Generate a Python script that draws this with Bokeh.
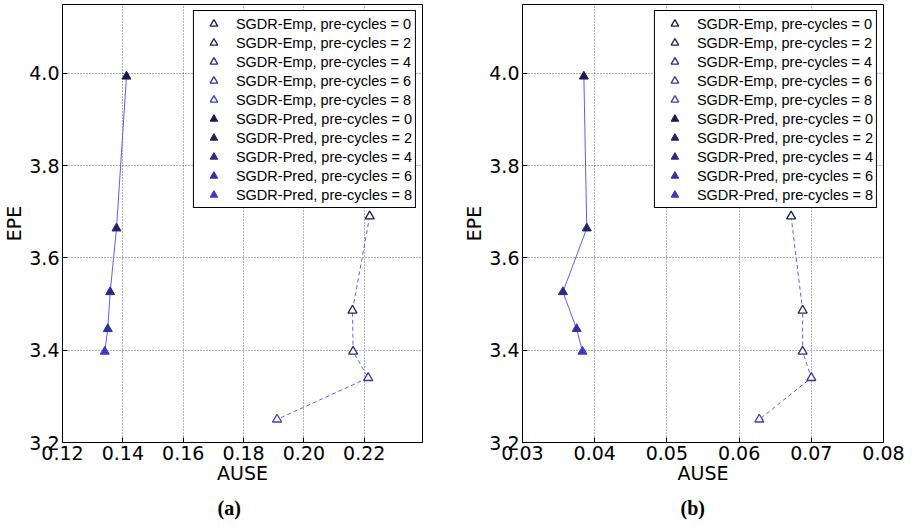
from bokeh.plotting import figure
from bokeh.layouts import row
from bokeh.models import (ColumnDataSource, Legend, LegendItem, Range1d, FixedTicker,
                          PrintfTickFormatter, Title)
from bokeh.embed import file_html
from bokeh.resources import INLINE

# ---------------- data ----------------
pre_cycles = [0, 2, 4, 6, 8]
epe_emp = [3.690, 3.486, 3.397, 3.340, 3.250]
epe_pred = [3.993, 3.664, 3.526, 3.446, 3.397]

ause_emp_a = [0.2218, 0.2161, 0.2163, 0.2213, 0.1911]
ause_pred_a = [0.1412, 0.1379, 0.1358, 0.1350, 0.1340]
ause_emp_b = [0.0672, 0.0688, 0.0688, 0.0700, 0.0628]
ause_pred_b = [0.0385, 0.0389, 0.0356, 0.0375, 0.0383]

emp_colors = ["#1c1b50", "#23226a", "#2b2b88", "#3434a6", "#3d3dc2"]
pred_colors = ["#1b1a4e", "#222266", "#2a2a85", "#3232a5", "#3b3bc0"]

y_ticks = [3.2, 3.4, 3.6, 3.8, 4.0]
x_ticks_a = [0.12, 0.14, 0.16, 0.18, 0.20, 0.22]
x_ticks_b = [0.03, 0.04, 0.05, 0.06, 0.07, 0.08]

FONT = "'DejaVu Sans'"
LEG_FONT = "'Liberation Sans'"
LINE_COLOR = "#5c5cff"


def make_panel(ause_emp, ause_pred, xr, xticks, xfmt, width, mbl, mbr, caption, cap_offset):
    p = figure(width=width, height=529, x_range=Range1d(*xr), y_range=Range1d(3.2, 4.1489),
               output_backend="svg", toolbar_location=None,
               min_border_left=mbl, min_border_right=mbr, min_border_top=4, min_border_bottom=87,
               background_fill_color="white", border_fill_color="white")
    p.outline_line_color = "black"
    p.outline_line_width = 1
    p.outline_line_alpha = 1

    p.line(ause_pred, epe_pred, line_color=LINE_COLOR, line_width=1)
    p.line(ause_emp, epe_emp, line_color=LINE_COLOR, line_width=1, line_dash="4 3")

    src_emp = ColumnDataSource(dict(x=ause_emp, y=epe_emp, c=emp_colors))
    src_pred = ColumnDataSource(dict(x=ause_pred, y=epe_pred, c=pred_colors))
    r_emp = p.scatter("x", "y", source=src_emp, marker="triangle", size=9,
                      line_color="c", fill_color="white", line_width=1.3)
    r_pred = p.scatter("x", "y", source=src_pred, marker="triangle", size=9,
                       line_color="c", fill_color="c", line_width=1)

    items = [LegendItem(label=f"SGDR-Emp, pre-cycles = {c}", renderers=[r_emp], index=i)
             for i, c in enumerate(pre_cycles)]
    items += [LegendItem(label=f"SGDR-Pred, pre-cycles = {c}", renderers=[r_pred], index=i)
              for i, c in enumerate(pre_cycles)]
    legend = Legend(items=items, location="top_right", margin=6, padding=3, spacing=0,
                    label_height=19, glyph_height=19, glyph_width=33, label_standoff=6,
                    label_text_font=LEG_FONT, label_text_font_size="14.5px",
                    label_text_color="black",
                    border_line_color="black", border_line_width=1, border_line_alpha=1,
                    background_fill_color="white", background_fill_alpha=1)
    p.add_layout(legend)

    p.xaxis.ticker = FixedTicker(ticks=xticks)
    p.xaxis.formatter = PrintfTickFormatter(format=xfmt)
    p.yaxis.ticker = FixedTicker(ticks=y_ticks)
    p.yaxis.formatter = PrintfTickFormatter(format="%.1f")
    p.xaxis.axis_label = "AUSE"
    p.yaxis.axis_label = "EPE"
    for ax in (p.xaxis[0], p.yaxis[0]):
        ax.major_label_text_font = FONT
        ax.major_label_text_font_size = "19px"
        ax.major_label_text_color = "black"
        ax.axis_label_text_font = FONT
        ax.axis_label_text_font_size = "19px"
        ax.axis_label_text_font_style = "normal"
        ax.axis_label_text_color = "black"
        ax.major_tick_in = 5
        ax.major_tick_out = 0
        ax.major_tick_line_color = "black"
        ax.minor_tick_line_color = None
        ax.axis_line_color = "black"
    p.xaxis.major_label_standoff = 3
    p.xaxis.axis_label_standoff = -1
    p.yaxis.major_label_standoff = 3
    p.yaxis.axis_label_standoff = 1

    p.grid.grid_line_color = "black"
    p.grid.grid_line_alpha = 0.6
    p.grid.grid_line_dash = "1 2"
    p.grid.grid_line_width = 1

    cap = Title(text=caption, align="left", offset=cap_offset,
                text_font="'Liberation Serif'", text_font_style="bold",
                text_font_size="20px", text_color="black", standoff=17)
    p.add_layout(cap, "below")
    return p


p1 = make_panel(ause_emp_a, ause_pred_a, (0.12, 0.2393), x_ticks_a, "%.2f",
                460, 58, 38, "(a)", 155)
p2 = make_panel(ause_emp_b, ause_pred_b, (0.03, 0.08), x_ticks_b, "%.2f",
                454, 58, 31, "(b)", 158)

layout = row(p1, p2)
open("out.html", "w").write(file_html(layout, INLINE))
